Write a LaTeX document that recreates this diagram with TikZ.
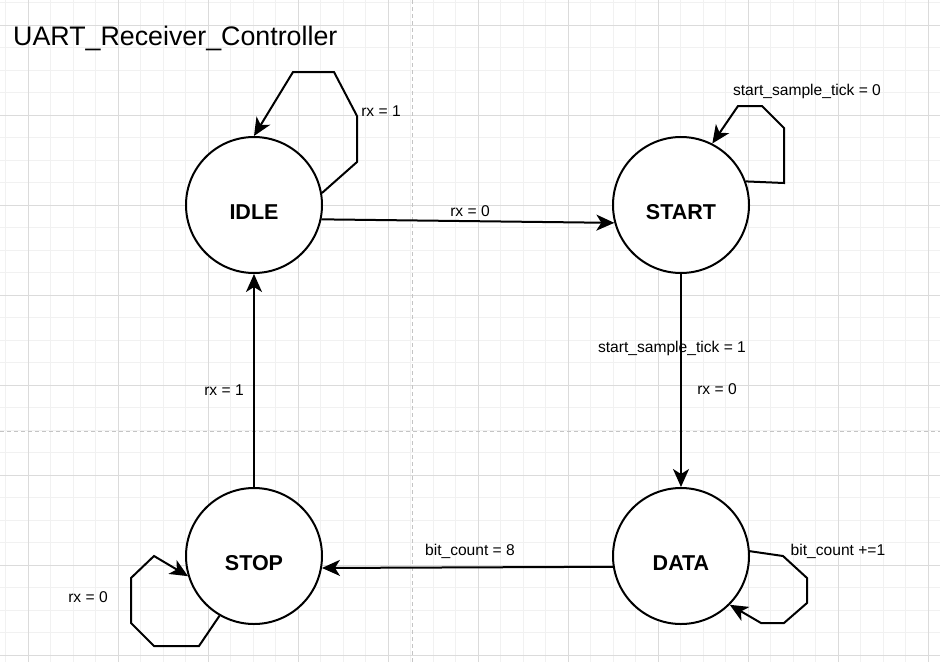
\documentclass[tikz,border=0pt]{standalone}
\usepackage{fontspec}
\setmainfont{Liberation Sans}
\usepackage{tikz}
\usetikzlibrary{arrows.meta}

\definecolor{minorgray}{HTML}{F1F1F1}
\definecolor{majorgray}{HTML}{DBDBDB}
\definecolor{pagegray}{HTML}{C4C4C4}

\begin{document}
\begin{tikzpicture}[
        x=1pt, y=-1pt,
        state/.style={circle, draw, line width=2pt, fill=white, minimum size=136pt, inner sep=0pt,
            font=\fontsize{21.5}{24}\selectfont\bfseries, text height=29pt, text depth=0pt},
        lbl/.style={font=\fontsize{15.6}{18}\selectfont, inner sep=1pt},
        arrow/.style={line width=2pt, -{Stealth[length=18pt, width=16pt, inset=5pt]}},
        loop/.style={arrow, line join=miter}
    ]
        \useasboundingbox (0,0) rectangle (940,662);
        \fill[white] (0,0) rectangle (940,662);

        % Background grid
        \foreach \i in {0,...,41} \draw[minorgray, line width=0.8pt] (5.5+22.5*\i,0) -- (5.5+22.5*\i,662);
        \foreach \i in {0,...,29} \draw[minorgray, line width=0.8pt] (0,2.5+22.5*\i) -- (940,2.5+22.5*\i);
        \foreach \i in {0,...,10} \draw[majorgray, line width=0.8pt] (28+90*\i,0) -- (28+90*\i,662);
        \foreach \i in {0,...,7} \draw[majorgray, line width=0.8pt] (0,25+90*\i) -- (940,25+90*\i);
        \draw[pagegray, line width=0.8pt, dash pattern=on 4pt off 3pt] (412,0) -- (412,662);
        \draw[pagegray, line width=0.8pt, dash pattern=on 4pt off 3pt] (0,431) -- (940,431);

        % Title
        \node[anchor=west, inner sep=0pt, font=\fontsize{26.8}{30}\selectfont] (title) at (13,38) {UART\_Receiver\_Controller};

        % States
        \node[state] (idle) at (254,205) {IDLE};
        \node[state] (start) at (681,205) {START};
        \node[state] (data) at (681,556) {DATA};
        \node[state] (stop) at (254,556) {STOP};

        % Transitions
        \draw[arrow] (idle.-12.5) -- (start.195);
        \node[lbl] (lidle) at (470,211) {rx = 0};
        \draw[arrow] (start.south) -- (data.north);
        \node[lbl] (ltick) at (672,348) {start\_sample\_tick = 1};
        \node[lbl] (lrxs) at (717,389) {rx = 0};
        \draw[arrow] (data.189) -- (stop.-10);
        \node[lbl] (lcount) at (470,551) {bit\_count = 8};
        \draw[arrow] (stop.north) -- (idle.south);
        \node[lbl] (lstop) at (224,390) {rx = 1};

        % Self loops
        \draw[loop] (idle.10) -- (357,162) -- (357,116) -- (334,72) -- (293,72) -- (idle.north);
        \node[lbl] (lidleloop) at (381,111) {rx = 1};
        \draw[loop] (start.20.5) -- (784,183) -- (784,128) -- (762,106) -- (738,106) -- (start.63);
        \node[lbl] (lstartloop) at (807,91) {start\_sample\_tick = 0};
        \draw[loop] (data.4) -- (783,556) -- (807,578) -- (807,603) -- (784,623) -- (761,623) -- (data.-45);
        \node[lbl] (ldataloop) at (838,551) {bit\_count +=1};
        \draw[loop] (stop.-120) -- (199,646) -- (154,646) -- (131,623) -- (131,578) -- (154,556) -- (stop.197);
        \node[lbl] (lstoploop) at (88,597) {rx = 0};
    \end{tikzpicture}
\end{document}
